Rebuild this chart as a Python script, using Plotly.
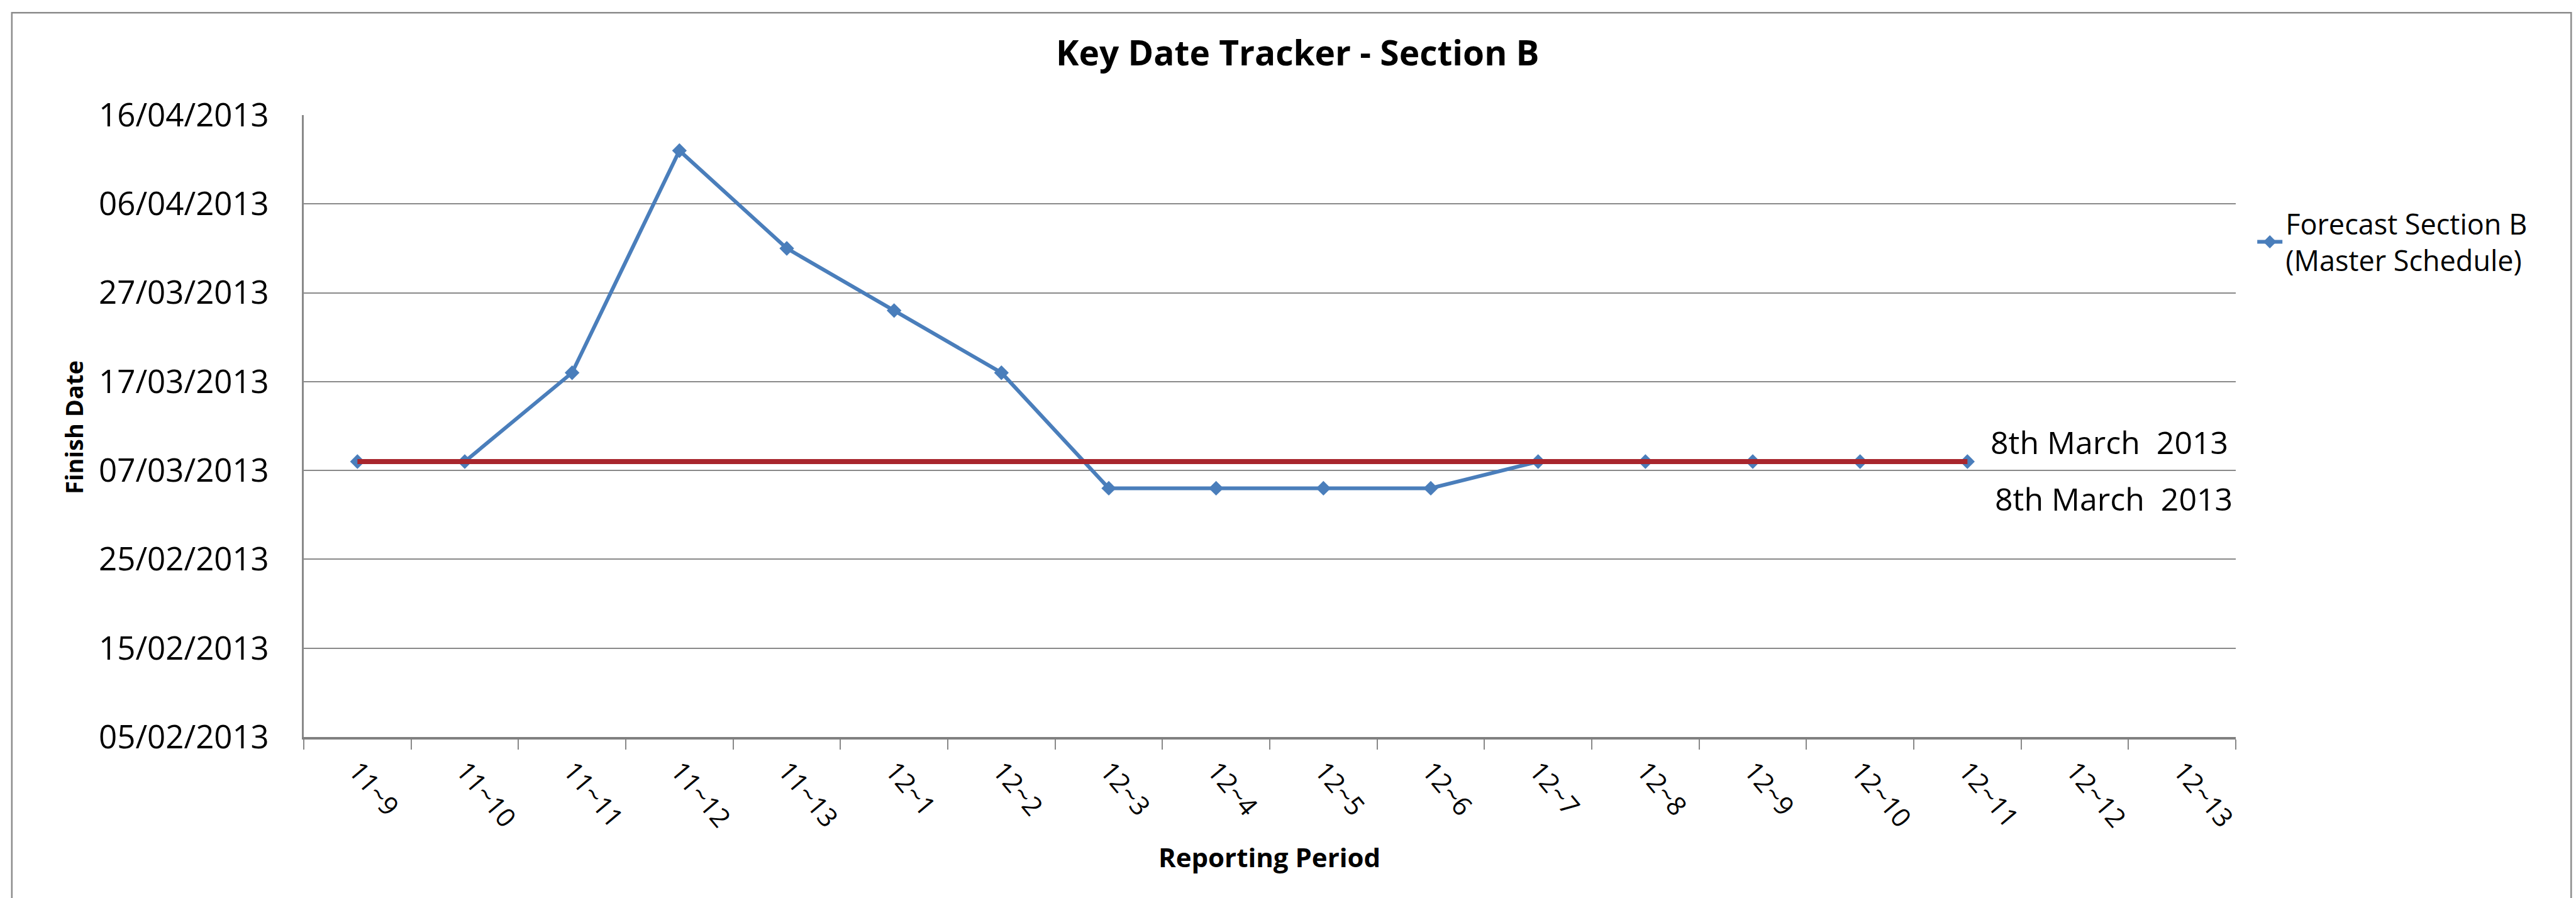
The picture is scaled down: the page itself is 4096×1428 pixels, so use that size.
import plotly.graph_objects as go

# Reporting periods (year~period) on the category axis
periods = ["11~9", "11~10", "11~11", "11~12", "11~13", "12~1", "12~2", "12~3",
           "12~4", "12~5", "12~6", "12~7", "12~8", "12~9", "12~10", "12~11",
           "12~12", "12~13"]

# Forecast finish date of Section B per reporting period (master schedule)
forecast_finish = ["2013-03-08", "2013-03-08", "2013-03-18", "2013-04-12",
                   "2013-04-01", "2013-03-25", "2013-03-18", "2013-03-05",
                   "2013-03-05", "2013-03-05", "2013-03-05", "2013-03-08",
                   "2013-03-08", "2013-03-08", "2013-03-08", "2013-03-08",
                   None, None]

# Contractual key date for Section B
key_date = "2013-03-08"
key_date_label = "8th March\u00a0 2013"

# Finish-date axis limits and tick spacing (days)
y_start, y_end = "2013-02-05", "2013-04-16"
tick_days = 10

FONT = "Open Sans"
BLUE = "#4A7EBB"
RED = "#A8262D"
GRID = "#898989"

fig = go.Figure()

fig.add_trace(go.Scatter(
    x=periods, y=forecast_finish,
    mode="lines+markers",
    name="Forecast Section B<br>(Master Schedule)",
    line=dict(color=BLUE, width=6),
    marker=dict(symbol="diamond", size=18, color=BLUE),
    connectgaps=False,
))

# Key date line across the periods that carry a forecast
kd_x = [p for p, f in zip(periods, forecast_finish) if f is not None]
fig.add_trace(go.Scatter(
    x=kd_x, y=[key_date] * len(kd_x),
    mode="lines",
    line=dict(color=RED, width=8),
    showlegend=False,
    hoverinfo="skip",
))

fig.update_layout(
    width=4096, height=1428,
    margin=dict(l=483, r=541, t=183, b=256),
    paper_bgcolor="white",
    plot_bgcolor="white",
    font=dict(family=FONT, color="black", size=46),
    showlegend=True,
    legend=dict(
        x=1.0095, y=0.862, xanchor="left", yanchor="top",
        font=dict(family=FONT, size=45, color="black"),
        bgcolor="rgba(0,0,0,0)",
        itemwidth=40,
        tracegroupgap=0,
    ),
    xaxis=dict(
        type="category",
        categoryorder="array", categoryarray=periods,
        range=[-0.5, len(periods) - 0.5],
        showgrid=False,
        showline=True, linecolor="#808080", linewidth=4,
        ticks="outside", tickson="boundaries",
        ticklen=16, tickwidth=2, tickcolor=GRID,
        tickangle=50,
        tickfont=dict(family=FONT, size=42, color="black"),
        ticklabelstandoff=8,
        zeroline=False,
    ),
    yaxis=dict(
        type="date",
        range=[y_start, y_end],
        tick0=y_start, dtick=tick_days * 86400000,
        tickformat="%d/%m/%Y",
        showgrid=True, gridcolor=GRID, gridwidth=2,
        showline=True, linecolor=GRID, linewidth=3,
        ticks="",
        tickfont=dict(family=FONT, size=51, color="black"),
        ticklabelstandoff=42,
        zeroline=False,
    ),
    annotations=[
        dict(text="Key Date Tracker - Section B", xref="paper", yref="paper",
             x=0.5144, y=1.1018, xanchor="center", yanchor="middle",
             showarrow=False,
             font=dict(family=FONT, size=55, color="black", weight=700)),
        dict(text="Finish Date", xref="paper", yref="paper",
             x=-0.119, y=0.498, xanchor="center", yanchor="middle",
             textangle=-90, showarrow=False,
             font=dict(family=FONT, size=38, color="black", weight=700)),
        dict(text="Reporting Period", xref="paper", yref="paper",
             x=0.4998, y=-0.1927, xanchor="center", yanchor="middle",
             showarrow=False,
             font=dict(family=FONT, size=42, color="black", weight=700)),
        dict(text=key_date_label, xref="paper", yref="paper",
             x=0.9969, y=0.4738, xanchor="right", yanchor="middle",
             showarrow=False,
             font=dict(family=FONT, size=50, color="black")),
        dict(text=key_date_label, xref="paper", yref="paper",
             x=0.9991, y=0.3828, xanchor="right", yanchor="middle",
             showarrow=False,
             font=dict(family=FONT, size=50, color="black")),
    ],
    shapes=[
        dict(type="rect", xref="paper", yref="paper",
             x0=-0.1511, x1=1.1736, y0=-0.263, y1=1.1645,
             line=dict(color="#8C8C8C", width=2.5),
             fillcolor="rgba(0,0,0,0)", layer="below"),
    ],
)

fig.write_html("out.html")
